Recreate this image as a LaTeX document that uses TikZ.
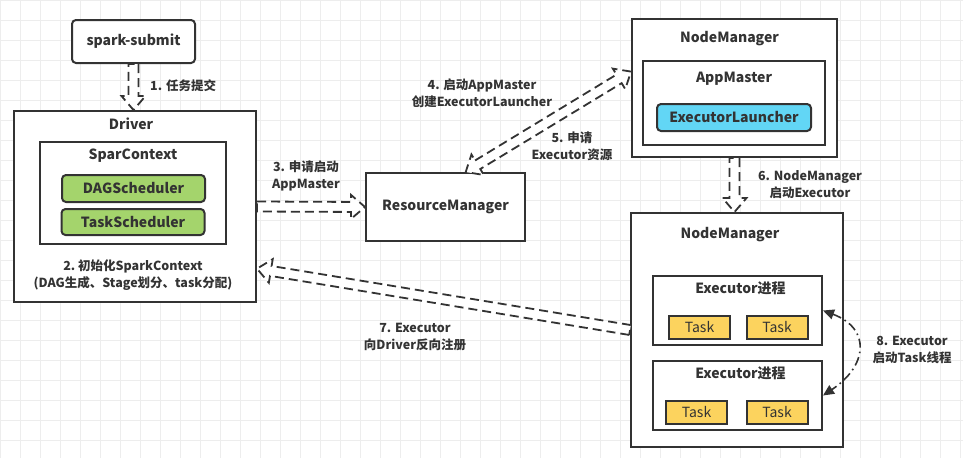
\documentclass[tikz,border=0pt]{standalone}
\usepackage{fontspec}
\setmainfont{Noto Sans CJK SC}
\usetikzlibrary{calc,positioning,arrows.meta}

\definecolor{ink}{HTML}{333333}
\definecolor{gridgray}{HTML}{EDEDED}
\definecolor{schedgreen}{HTML}{A4D46C}
\definecolor{launchcyan}{HTML}{62D6F5}
\definecolor{taskyellow}{HTML}{FCD35E}

\tikzset{
  box/.style={draw=ink, line width=2pt, fill=white, inner sep=0pt},
  title/.style={font=\fontsize{14}{17}\selectfont\bfseries, text=ink, inner sep=0pt},
  sched/.style={box, fill=schedgreen, rounded corners=4pt, minimum width=143pt, minimum height=27pt,
    font=\fontsize{14}{17}\selectfont\bfseries, text=ink},
  launcher/.style={sched, fill=launchcyan},
  tasknode/.style={box, fill=taskyellow, minimum width=61pt, minimum height=23pt,
    font=\fontsize{14}{17}\selectfont, text=ink},
  lbl/.style={font=\fontsize{12.5}{17}\selectfont\bfseries, text=ink, align=center, inner sep=0pt},
  flex/.style={draw=ink, line width=1.8pt, fill=white, dash pattern=on 9pt off 5pt, line join=miter},
  threadarrow/.style={draw=ink, line width=1.6pt, dash pattern=on 9pt off 4pt on 1.6pt off 4pt,
    {Triangle[length=11pt,width=10pt]}-{Triangle[length=11pt,width=10pt]}},
}

% dashed hollow arrow from #1 to #2
\newcommand{\flexarrow}[2]{%
  \coordinate (fa-b) at ($(#2)!14pt!(#1)$);
  \draw[flex] ($(#1)!5pt!90:(#2)$) -- ($(fa-b)!5pt!90:(#2)$) -- ($(fa-b)!12pt!90:(#2)$) -- (#2)
    -- ($(fa-b)!12pt!-90:(#2)$) -- ($(fa-b)!5pt!-90:(#2)$) -- ($(#1)!5pt!-90:(#2)$) -- cycle;}
% same, heads at both ends
\newcommand{\flexarrowboth}[2]{%
  \coordinate (fa-a) at ($(#1)!14pt!(#2)$);
  \coordinate (fa-b) at ($(#2)!14pt!(#1)$);
  \draw[flex] ($(fa-a)!5pt!90:(#2)$) -- ($(fa-b)!5pt!90:(#2)$) -- ($(fa-b)!12pt!90:(#2)$) -- (#2)
    -- ($(fa-b)!12pt!-90:(#2)$) -- ($(fa-b)!5pt!-90:(#2)$) -- ($(fa-a)!5pt!-90:(#2)$)
    -- ($(fa-a)!12pt!-90:(#2)$) -- (#1) -- ($(fa-a)!12pt!90:(#2)$) -- cycle;}

\begin{document}
\begin{tikzpicture}[x=1pt,y=-1pt]
    \fill[white] (0,0) rectangle (963,458);
    \useasboundingbox (0,0) rectangle (963,458);
    \draw[gridgray, line width=0.9pt, step=20pt] (0pt,0pt) grid (963pt,-458pt);

    % client side
    \node[box, rounded corners=4pt, minimum width=123pt, minimum height=43pt,
          font=\fontsize{14}{17}\selectfont\bfseries, text=ink] (submit) at (133.5,41.5) {spark-submit};
    \node[box, minimum width=242pt, minimum height=191pt] (driver) at (135,206.5) {};
    \node[title] (drivertitle) at ([xshift=-4pt,yshift=-14pt]driver.north) {Driver};
    \node[box, minimum width=186pt, minimum height=102pt] (sc) at (133,193) {};
    \node[title] (sctitle) at ([yshift=-15pt]sc.north) {SparContext};
    \node[sched] (dag) at (133.5,188.5) {DAGScheduler};
    \node[sched, minimum height=26pt] (ts) at (133,222) {TaskScheduler};
    \node[lbl] (l2) at (133,275) {2.~初始化SparkContext\\(DAG生成、Stage划分、task分配)};

    % cluster side
    \node[box, minimum width=159pt, minimum height=68pt,
          font=\fontsize{14}{17}\selectfont\bfseries, text=ink] (rm) at (445.5,207) {ResourceManager};
    \node[box, minimum width=205pt, minimum height=138pt] (nmtop) at (734.5,88) {};
    \node[title] (nmtoptitle) at ([xshift=-5pt,yshift=-21pt]nmtop.north) {NodeManager};
    \node[box, minimum width=182pt, minimum height=84pt] (am) at (734,103) {};
    \node[title] (amtitle) at ([yshift=-19pt]am.north) {AppMaster};
    \node[launcher, minimum width=154pt] (el) at (734,117.5) {ExecutorLauncher};

    \node[box, minimum width=212pt, minimum height=234pt] (nmbot) at (737,330) {};
    \node[title] (nmbottitle) at ([xshift=-7pt,yshift=-23pt]nmbot.north) {NodeManager};
    \node[box, minimum width=169pt, minimum height=69pt] (ex1) at (737.5,310.5) {};
    \node[title] (ex1title) at ([xshift=3pt,yshift=-13pt]ex1.north) {Executor进程};
    \node[tasknode] (t1a) at (699.5,327.5) {Task};
    \node[tasknode] (t1b) at (777,327.5) {Task};
    \node[box, minimum width=169pt, minimum height=69pt] (ex2) at (737.5,395.5) {};
    \node[title] (ex2title) at ([xshift=3pt,yshift=-13pt]ex2.north) {Executor进程};
    \node[tasknode] (t2a) at (696.5,412.5) {Task};
    \node[tasknode] (t2b) at (777,412.5) {Task};

    % steps
    \coordinate (a1end) at (submit.south |- driver.north);
    \flexarrow{submit.south}{a1end}
    \node[lbl, anchor=west] (l1) at (150,86) {1. 任务提交};

    \flexarrow{driver.east}{rm.west}
    \node[lbl] (l3) at (306,176) {3. 申请启动\\AppMaster};

    \flexarrowboth{rm.60}{nmtop.171}
    \node[lbl] (l4) at (482,93) {4. 启动AppMaster\\创建ExecutorLauncher};
    \node[lbl] (l5) at (572,146) {5. 申请\\Executor资源};

    \coordinate (a6end) at (nmtop.south |- nmbot.north);
    \flexarrow{nmtop.south}{a6end}
    \node[lbl] (l6) at (810,185) {6. NodeManager\\启动Executor};

    \flexarrow{nmbot.west}{driver.-27}
    \node[lbl] (l7) at (415,337) {7. Executor\\向Driver反向注册};

    \draw[threadarrow] (ex1.east) .. controls ($(ex1.east)+(48,18)$) and ($(ex2.east)+(45,-30)$) .. (ex2.east);
    \node[lbl] (l8) at (912,350) {8. Executor\\启动Task线程};
\end{tikzpicture}
\end{document}
